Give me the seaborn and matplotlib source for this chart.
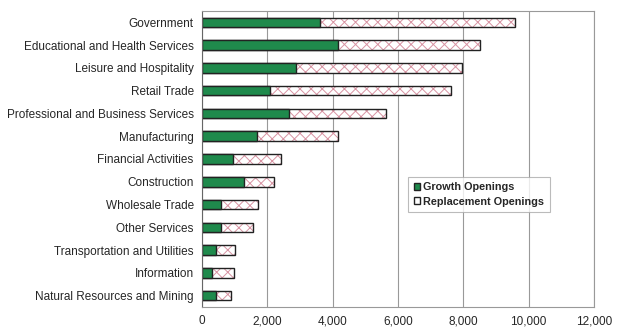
import matplotlib
matplotlib.use("Agg")
import matplotlib.pyplot as plt
import seaborn as sns
import pandas as pd
from matplotlib.patches import Patch

industries = [
    "Government",
    "Educational and Health Services",
    "Leisure and Hospitality",
    "Retail Trade",
    "Professional and Business Services",
    "Manufacturing",
    "Financial Activities",
    "Construction",
    "Wholesale Trade",
    "Other Services",
    "Transportation and Utilities",
    "Information",
    "Natural Resources and Mining",
]
growth = [3610, 4150, 2875, 2080, 2670, 1670, 960, 1300, 580, 570, 430, 300, 440]
replacement = [5965, 4375, 5070, 5540, 2960, 2500, 1470, 900, 1120, 1000, 590, 680, 440]
x_ticks = [0, 2000, 4000, 6000, 8000, 10000, 12000]

df = pd.DataFrame({"industry": industries, "growth": growth, "replacement": replacement})
df["total"] = df["growth"] + df["replacement"]

sns.set_style("white")
plt.rcParams["font.family"] = ["Liberation Sans", "DejaVu Sans"]
plt.rcParams["hatch.linewidth"] = 0.7

fig = plt.figure(figsize=(6.25, 3.27), dpi=100)
ax = fig.add_axes([202 / 625, 20 / 327, 392 / 625, 296 / 327])

green = "#1f8a4c"
pink = "#d894a3"
bar_h = 0.42

# hatched fill for the whole bar (replacement part shows beyond growth)
sns.barplot(data=df, x="total", y="industry", color="white", width=bar_h,
            edgecolor=pink, linewidth=0, hatch="xxx", ax=ax, orient="h")
# black outline of the total bar
sns.barplot(data=df, x="total", y="industry", fill=False, width=bar_h,
            edgecolor="#222222", linewidth=1.0, ax=ax, orient="h")
# growth openings
sns.barplot(data=df, x="growth", y="industry", color=green, saturation=1,
            width=bar_h, edgecolor="#222222", linewidth=1.0, ax=ax, orient="h")

ax.set_xlim(0, 12000)
ax.set_ylim(12.5, -0.5)
ax.set_xticks(x_ticks)
ax.set_xticklabels([f"{v:,}" for v in x_ticks], fontsize=8.5)
ax.tick_params(axis="y", labelsize=8.5, length=0, pad=6)
ax.tick_params(axis="x", length=0, pad=6)
ax.set_xlabel("")
ax.set_ylabel("")
ax.grid(axis="x", color="#999999", linewidth=0.8)
ax.set_axisbelow(True)
for side in ["top", "right", "bottom", "left"]:
    ax.spines[side].set_color("#999999")
    ax.spines[side].set_linewidth(0.8)
ax.spines["left"].set_color("#666666")

handles = [
    Patch(facecolor=green, edgecolor="#222222", label="Growth Openings"),
    Patch(facecolor="white", edgecolor="#222222", label="Replacement Openings"),
]
leg = ax.legend(handles=handles, loc="upper left", bbox_to_anchor=(0.526, 0.44),
                frameon=True, fancybox=False, handlelength=0.6,
                handleheight=0.6, handletextpad=0.3, borderpad=0.5,
                labelspacing=0.4, borderaxespad=0,
                prop={"weight": "bold", "size": 7.8})
leg.get_frame().set_edgecolor("#aaaaaa")
leg.get_frame().set_linewidth(0.8)

fig.savefig("out.png", dpi=100)
